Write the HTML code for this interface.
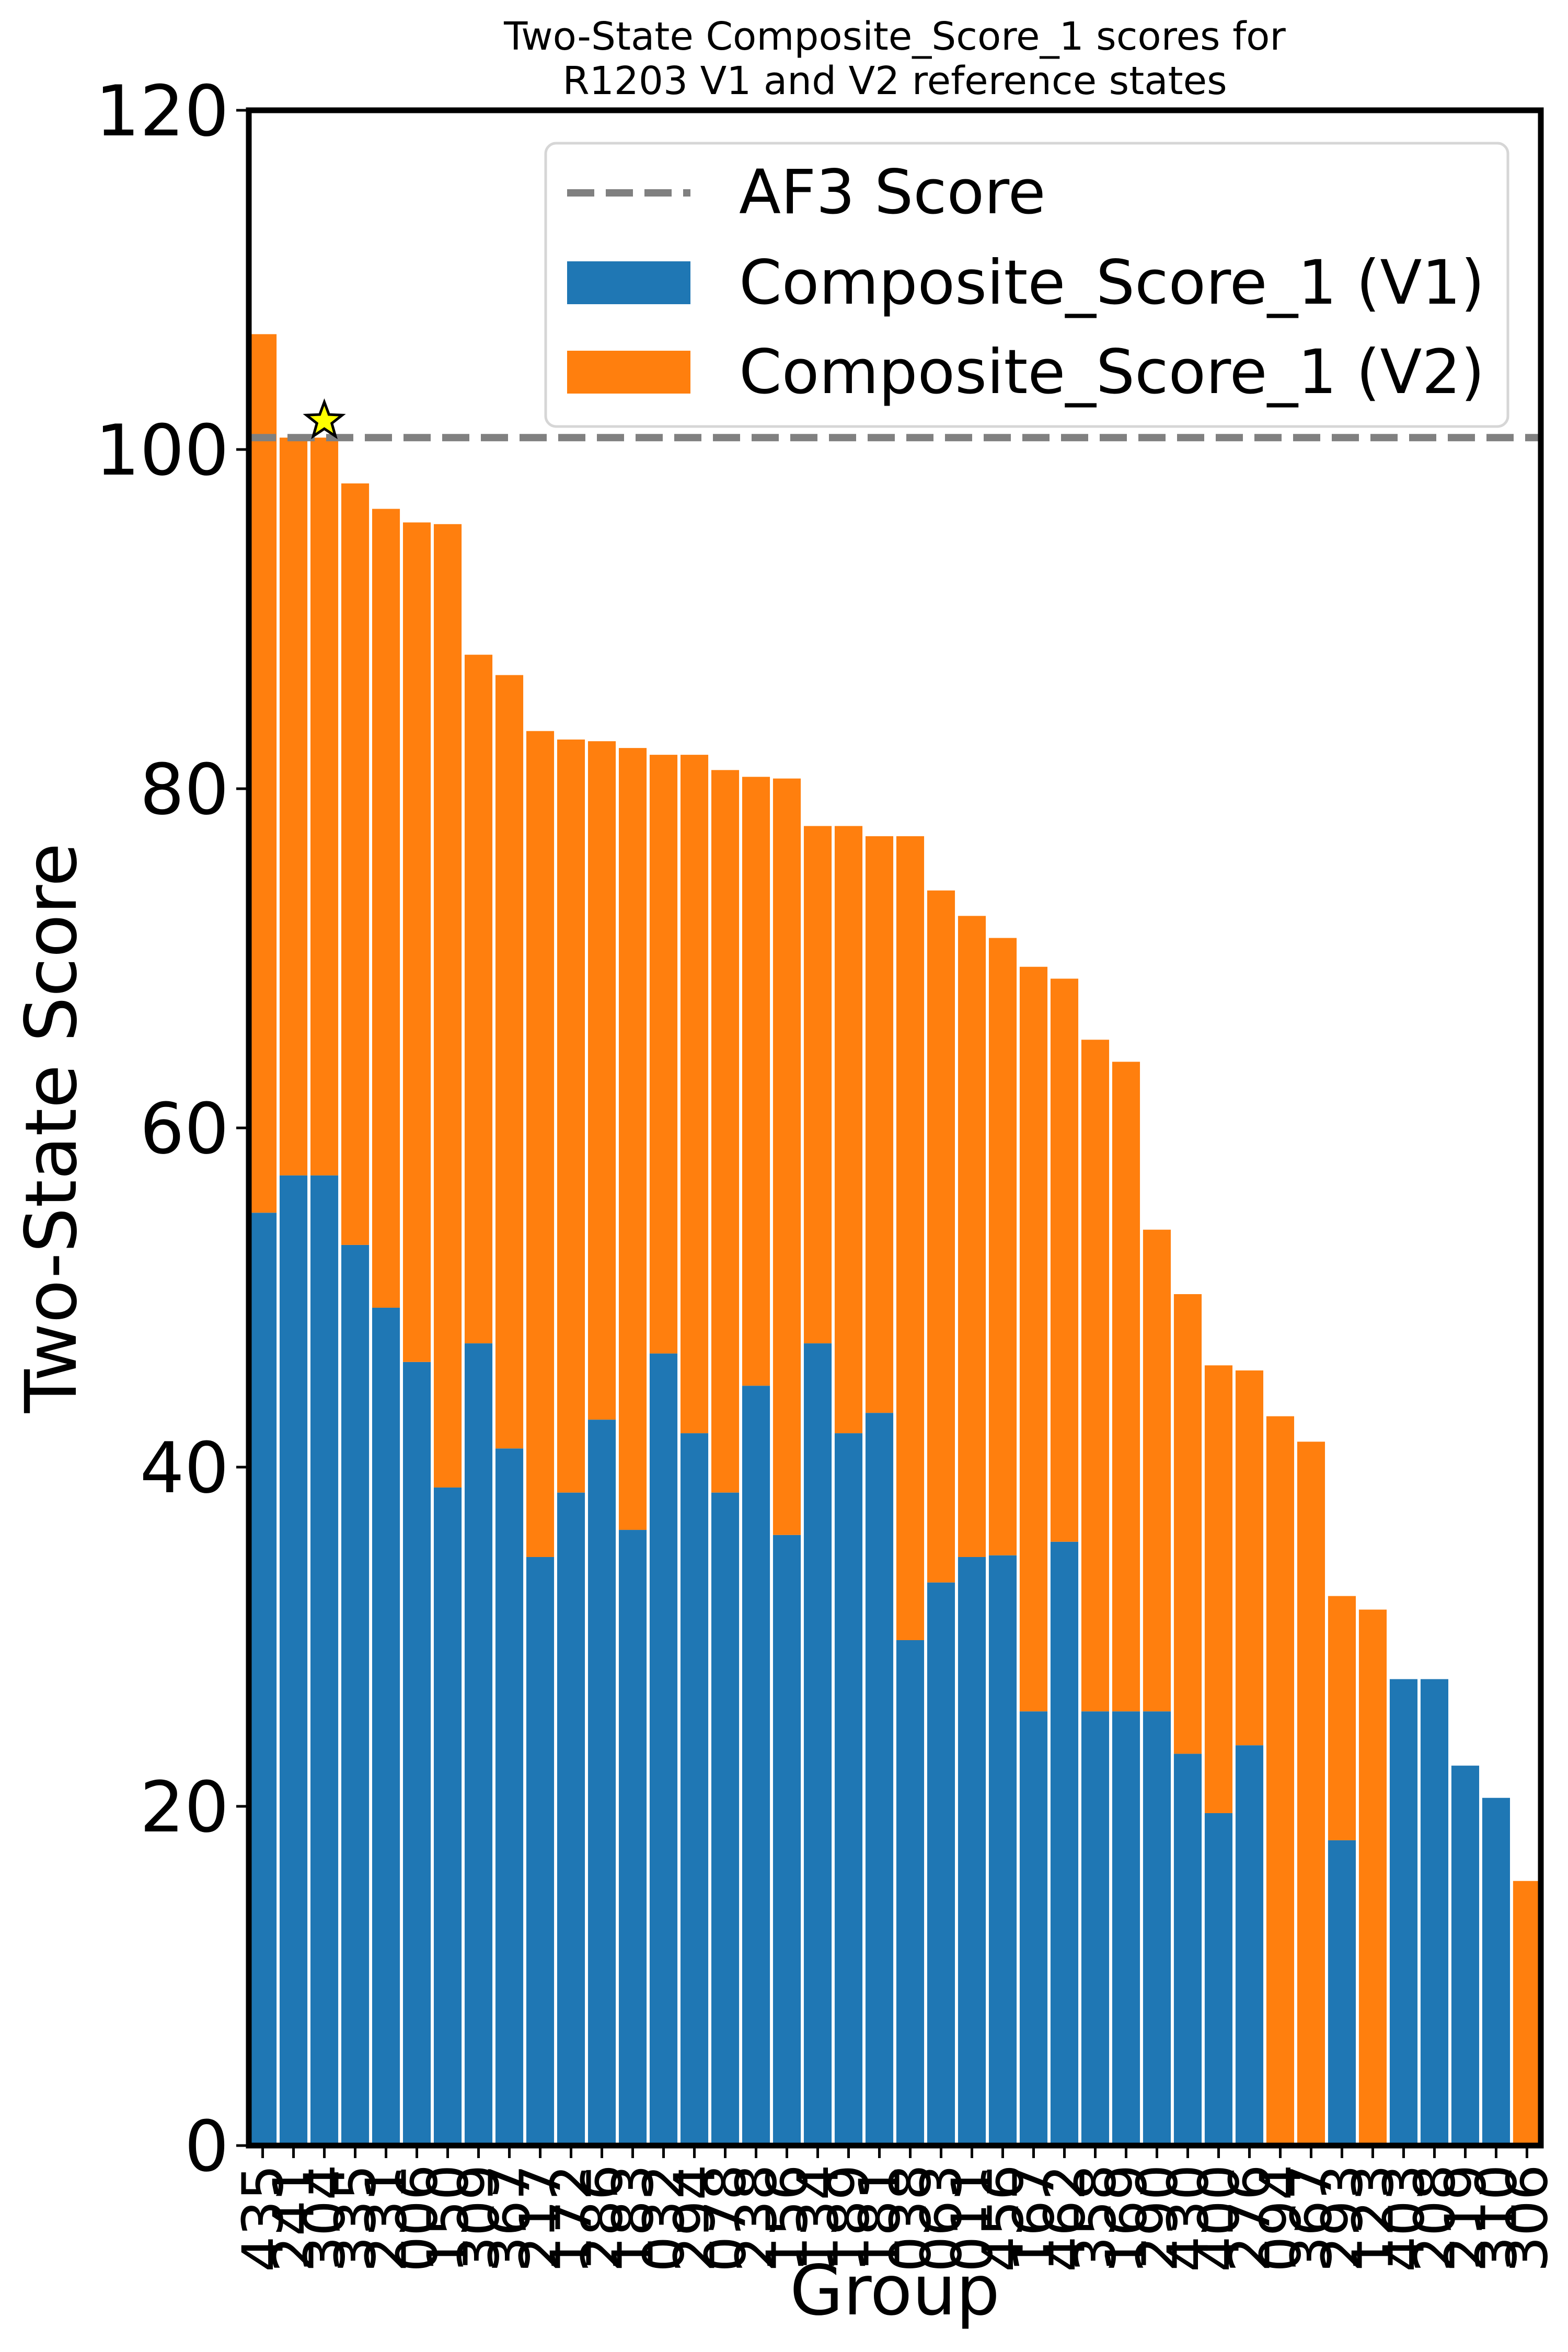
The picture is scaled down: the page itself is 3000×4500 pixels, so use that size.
<!DOCTYPE html>
<html><head><meta charset="utf-8"><style>
html,body{margin:0;padding:0;background:#fff;}
svg{display:block;font-family:"DejaVu Sans","Liberation Sans",sans-serif;}
</style></head><body>
<svg id="chart" width="3000" height="4500" viewBox="0 0 3000 4500" xmlns="http://www.w3.org/2000/svg">
<rect x="0" y="0" width="3000" height="4500" fill="#fff"/>
<text x="1712" y="95" font-size="74" text-anchor="middle">Two-State Composite_Score_1 scores for</text>
<text x="1712" y="180" font-size="74" text-anchor="middle">R1203 V1 and V2 reference states</text>
<g id="bars"></g>
<g id="yaxis"></g>
<g id="xaxis"></g>
<text transform="translate(145,2158) rotate(-90)" font-size="136" text-anchor="middle">Two-State Score</text>
<text x="1712" y="4428" font-size="132" text-anchor="middle">Group</text>
<g>
<rect x="1044" y="274" width="1841" height="542" rx="20" fill="#fff" fill-opacity="0.8" stroke="#d6d6d6" stroke-width="5"/>
<line x1="1085" y1="369" x2="1321" y2="369" stroke="#808080" stroke-width="14" stroke-dasharray="52,22"/>
<text x="1414" y="408" font-size="117">AF3 Score</text>
<rect x="1085" y="500" width="236" height="82" fill="#1f77b4"/>
<text x="1414" y="581" font-size="117">Composite_Score_1 (V1)</text>
<rect x="1085" y="671" width="236" height="82" fill="#ff7f0e"/>
<text x="1414" y="752" font-size="117">Composite_Score_1 (V2)</text>
</g>
</svg>
<script>
const groups = ["435","241","304","335","231","006","150","309","367","217","172","286","183","032","294","078","238","156","134","189","181","038","063","011","456","167","462","358","169","290","430","400","276","094","367","293","123","403","208","219","310","306"];
const v1Scores = [55.0,57.2,57.2,53.1,49.4,46.2,38.8,47.3,41.1,34.7,38.5,42.8,36.3,46.7,42.0,38.5,44.8,36.0,47.3,42.0,43.2,29.8,33.2,34.7,34.8,25.6,35.6,25.6,25.6,25.6,23.1,19.6,23.6,0,0,18.0,0,27.5,27.5,22.4,20.5,0];
const totalScores = [106.8,100.7,100.7,98.0,96.5,95.7,95.6,87.9,86.7,83.4,82.9,82.8,82.4,82.0,82.0,81.1,80.7,80.6,77.8,77.8,77.2,77.2,74.0,72.5,71.2,69.5,68.8,65.2,63.9,54.0,50.2,46.0,45.7,43.0,41.5,32.4,31.6,27.5,27.5,22.4,20.5,15.6];
const af3Score = [100.7];
const starIndex = [2];
const yTicks = [0,20,40,60,80,100,120];

const NS = "http://www.w3.org/2000/svg";
const L = 476, R = 2948, T = 211, B = 4105;
const yMin = 0, yMax = 120;
const n = groups.length;
const pitch = (R - L) / (n - 1 + 0.9);
function xs(i){ return L + (i + 0.45) * pitch; }
function ys(v){ return B - (v - yMin) / (yMax - yMin) * (B - T); }
function mk(tag, attrs, parent){
  const e = document.createElementNS(NS, tag);
  for (const k in attrs) e.setAttribute(k, attrs[k]);
  parent.appendChild(e);
  return e;
}
const bars = document.getElementById('bars');
const bw = pitch * 0.9;
for (let i = 0; i < n; i++) {
  const v1 = v1Scores[i];
  const v2 = Math.max(0, totalScores[i] - v1);
  const b1 = mk('rect', {x: xs(i) - bw/2, y: ys(v1), width: bw, height: ys(0) - ys(v1), fill: '#1f77b4'}, bars);
  
  
  const b2 = mk('rect', {x: xs(i) - bw/2, y: ys(v1 + v2), width: bw, height: ys(v1) - ys(v1 + v2), fill: '#ff7f0e'}, bars);
  
  
}
const af = mk('line', {x1: L, x2: R, y1: ys(af3Score[0]), y2: ys(af3Score[0]), stroke: '#808080', 'stroke-width': 14, 'stroke-dasharray': '52,22'}, bars);


(function(){
  const cx = xs(starIndex[0]), cy = ys(totalScores[starIndex[0]]) - 32, ro = 36, ri = 15;
  let pts = [];
  for (let k = 0; k < 10; k++) {
    const a = -Math.PI/2 + k * Math.PI/5;
    const r = k % 2 ? ri : ro;
    pts.push((cx + r*Math.cos(a)).toFixed(1) + ',' + (cy + r*Math.sin(a)).toFixed(1));
  }
  const s = mk('polygon', {points: pts.join(' '), fill: '#ffff00', stroke: '#000', 'stroke-width': 5}, bars);
  
  
})();
const ya = document.getElementById('yaxis');
const fr = mk('rect', {x: L, y: T, width: R - L, height: B - T, fill: 'none', stroke: '#000', 'stroke-width': 11}, ya);


for (const t of yTicks) {
  const tl = mk('line', {x1: L - 24, x2: L, y1: ys(t), y2: ys(t), stroke: '#000', 'stroke-width': 5}, ya);
  
  
  const tx = mk('text', {x: L - 38, y: ys(t) + 48, 'font-size': 134, 'text-anchor': 'end'}, ya);
  tx.textContent = t;
  
  
}
const xa = document.getElementById('xaxis');
for (let i = 0; i < n; i++) {
  const tl = mk('line', {x1: xs(i), x2: xs(i), y1: B, y2: B + 24, stroke: '#000', 'stroke-width': 5}, xa);
  
  
  const tx = mk('text', {transform: 'translate(' + (xs(i) + 38) + ',' + (B + 36) + ') rotate(-90)', 'font-size': 108, 'text-anchor': 'end'}, xa);
  tx.textContent = groups[i];
  
  
}
</script>
</body></html>
